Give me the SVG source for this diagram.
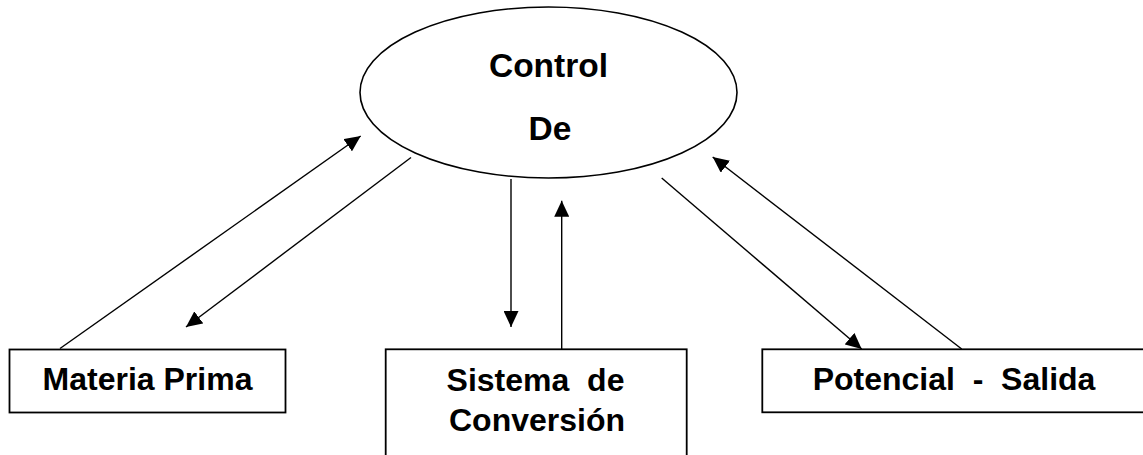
<svg xmlns="http://www.w3.org/2000/svg" width="1143" height="455" viewBox="0 0 1143 455">
  <style>
    .lbl { font-family: "Liberation Sans", Arial, sans-serif; font-weight: bold; font-size: 32px; fill: #000; text-anchor: middle; white-space: pre; }
    .big { font-size: 33.5px; }
    .box { fill: #fff; stroke: #000; stroke-width: 1.8; }
    .conn { stroke: #000; stroke-width: 1.4; fill: none; marker-end: url(#arr); }
  </style>
  <defs>
    <marker id="arr" markerUnits="userSpaceOnUse" markerWidth="17" markerHeight="15" refX="16" refY="7.5" orient="auto">
      <path d="M0,0 L16,7.5 L0,15 z" fill="#000"/>
    </marker>
  </defs>
  <rect width="1143" height="455" fill="#fff"/>
  <g id="control">
    <ellipse cx="548.5" cy="92.5" rx="188.5" ry="85.5" fill="#fff" stroke="#000" stroke-width="1.6"/>
    <text class="lbl big" x="548.5" y="76.5">Control</text>
    <text class="lbl big" x="550" y="140">De</text>
  </g>
  <g id="materia">
    <rect class="box" x="9.5" y="349.5" width="276" height="63"/>
    <text class="lbl" x="147.5" y="390">Materia Prima</text>
  </g>
  <g id="sistema">
    <rect class="box" x="385.7" y="349.3" width="301" height="120"/>
    <text class="lbl" x="535.5" y="391">Sistema  de</text>
    <text class="lbl" x="537" y="431">Conversión</text>
  </g>
  <g id="potencial">
    <rect class="box" x="762.3" y="349.3" width="383" height="63"/>
    <text class="lbl" x="954" y="390">Potencial  -  Salida</text>
  </g>
  <g id="connectors">
    <line class="conn" x1="60" y1="348.5" x2="360.7" y2="136"/>
    <line class="conn" x1="411" y1="157.5" x2="186" y2="327"/>
    <line class="conn" x1="511" y1="179" x2="511" y2="327"/>
    <line class="conn" x1="561.7" y1="349" x2="561.7" y2="200.7"/>
    <line class="conn" x1="661.7" y1="178" x2="861.7" y2="349"/>
    <line class="conn" x1="961.7" y1="349" x2="712.7" y2="157"/>
  </g>
</svg>
